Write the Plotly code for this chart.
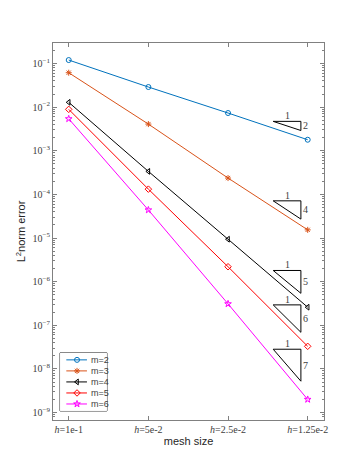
import plotly.graph_objects as go

# mesh sizes and L2 errors per polynomial degree m
h_vals = [1e-1, 5e-2, 2.5e-2, 1.25e-2]
h_labels = ["<i>h</i>=1e-1", "<i>h</i>=5e-2", "<i>h</i>=2.5e-2", "<i>h</i>=1.25e-2"]
err_m2 = [0.12, 0.0289, 0.00733, 0.00179]
err_m3 = [0.0615, 0.00409, 2.37e-4, 1.54e-5]
err_m4 = [0.0129, 3.37e-4, 9.4e-6, 2.6e-7]
err_m5 = [0.0089, 1.32e-4, 2.2e-6, 3.3e-8]
err_m6 = [0.0054, 4.4e-5, 3.1e-7, 2.0e-9]

series_names = ["m=2", "m=3", "m=4", "m=5", "m=6"]
series_errs = [err_m2, err_m3, err_m4, err_m5, err_m6]
colors = ["#0072BD", "#D95319", "#000000", "#FF0000", "#FF00FF"]
symbols = ["circle-open", "asterisk-open", "triangle-left-open", "diamond-open", "star-open"]

# slope triangles: slope, log10 of top edge
tri_slopes = [2, 4, 5, 6, 7]
tri_tops = [-2.326, -4.147, -5.743, -6.532, -7.548]
tri_x = [-1.7727, -1.8774]  # log10 h of left / right vertex

axis_col = "#808080"
text_col = "#404040"
serif = "Liberation Serif"
sans = "Liberation Sans"

fig = go.Figure()

for name, err, c, s in zip(series_names, series_errs, colors, symbols):
    fig.add_trace(go.Scatter(
        x=h_vals, y=err, mode="lines+markers", name=name,
        line=dict(color=c, width=1),
        marker=dict(symbol=s, size=5, color=c, line=dict(width=1, color=c)),
        showlegend=False,
    ))

annotations = []
for slope, top in zip(tri_slopes, tri_tops):
    x0, x1 = 10 ** tri_x[0], 10 ** tri_x[1]
    w = tri_x[0] - tri_x[1]
    bot = top - slope * w
    fig.add_trace(go.Scatter(
        x=[x0, x1, x1, x0], y=[10 ** top, 10 ** top, 10 ** bot, 10 ** top],
        mode="lines", line=dict(color="black", width=1), showlegend=False,
        hoverinfo="skip",
    ))
    annotations.append(dict(
        x=(tri_x[0] + tri_x[1]) / 2, y=top, text="1", showarrow=False,
        xref="x", yref="y", yanchor="bottom", yshift=-2,
        font=dict(family=serif, size=10, color=text_col),
    ))
    annotations.append(dict(
        x=tri_x[1], y=(top + bot) / 2, text=str(slope), showarrow=False,
        xref="x", yref="y", xanchor="left", xshift=0,
        font=dict(family=serif, size=10, color=text_col),
    ))

# custom legend drawn on its own small axes
leg_line = [0.134, 0.574]
leg_marker = 0.362
for i, (name, c, s) in enumerate(zip(series_names, colors, symbols)):
    yy = 0.88 - 0.19 * i
    fig.add_trace(go.Scatter(
        x=leg_line, y=[yy, yy], mode="lines", line=dict(color=c, width=1),
        xaxis="x2", yaxis="y2", showlegend=False, hoverinfo="skip",
    ))
    fig.add_trace(go.Scatter(
        x=[leg_marker], y=[yy], mode="markers",
        marker=dict(symbol=s, size=5, color=c, line=dict(width=1, color=c)),
        xaxis="x2", yaxis="y2", showlegend=False, hoverinfo="skip",
    ))
    annotations.append(dict(
        x=0.617, y=yy, text=name, showarrow=False, xref="x2", yref="y2",
        xanchor="left", font=dict(family=sans, size=9, color=text_col),
    ))

major_y = [10.0 ** e for e in range(-9, 0)]
major_y_text = ["10<sup>\u2212%d</sup>" % -e for e in range(-9, 0)]
minor_y = [k * 10.0 ** e for e in range(-10, 0) for k in range(2, 10)]

fig.update_layout(
    width=349, height=465,
    margin=dict(l=45, r=33, t=35, b=53),
    plot_bgcolor="white", paper_bgcolor="white",
    annotations=annotations,
    shapes=[dict(type="rect", xref="paper", yref="paper",
                 x0=0.026, x1=0.199, y0=0.024, y1=0.178,
                 line=dict(color="#262626", width=1), fillcolor="white",
                 layer="below")],
    xaxis=dict(
        type="log", range=[-0.9406, -1.9647],
        tickmode="array", tickvals=h_vals, ticktext=h_labels,
        ticks="inside", ticklen=4, tickcolor=axis_col,
        showline=True, linecolor=axis_col, linewidth=1, mirror="ticks",
        showgrid=False, zeroline=False,
        tickfont=dict(family=serif, size=10, color=text_col),
        title=dict(text="mesh size", font=dict(family=sans, size=11, color="#262626"),
                   standoff=3),
    ),
    yaxis=dict(
        type="log", range=[-9.17, -0.53],
        tickmode="array", tickvals=major_y, ticktext=major_y_text,
        ticks="inside", ticklen=4, tickcolor=axis_col,
        minor=dict(tickmode="array", tickvals=minor_y, ticks="inside",
                   ticklen=2, tickcolor=axis_col, showgrid=False),
        showline=True, linecolor=axis_col, linewidth=1, mirror="ticks",
        showgrid=False, zeroline=False,
        tickfont=dict(family=serif, size=10, color=text_col),
        title=dict(text="L<sup>2</sup>norm error", font=dict(family=sans, size=11, color="#262626"),
                   standoff=4),
    ),
    xaxis2=dict(domain=[0.026, 0.199], range=[0, 1], anchor="y2",
                visible=False, fixedrange=True),
    yaxis2=dict(domain=[0.024, 0.178], range=[0, 1], anchor="x2",
                visible=False, fixedrange=True),
)

fig.write_html("out.html")
